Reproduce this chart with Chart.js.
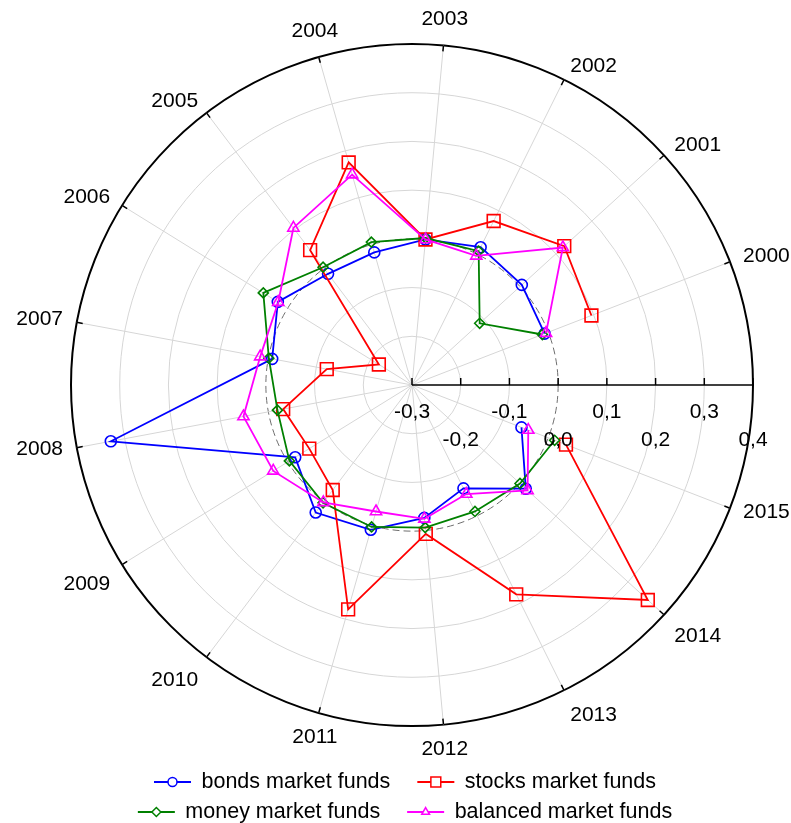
<!DOCTYPE html>
<html>
<head>
<meta charset="utf-8">
<script src="https://cdn.jsdelivr.net/npm/chart.js@4/dist/chart.umd.min.js"></script>
<style>
  html, body { margin: 0; padding: 0; background: #fff; }
  #wrap { width: 791px; height: 823px; position: relative; }
</style>
</head>
<body>
<div id="wrap"><canvas id="chart"></canvas></div>
<script>
// years, counter-clockwise from the radial axis
const years = ["2000", "2001", "2002", "2003", "2004", "2005", "2006", "2007",
  "2008", "2009", "2010", "2011", "2012", "2013", "2014", "2015"];

const bonds = [-0.008, 0.005, 0.016, 0.0, -0.017, -0.014, 0.024, -0.008,
  0.329, -0.018, 0.028, 0.009, -0.026, -0.063, 0.016, -0.059];
const stocks = [0.095, 0.123, 0.076, 0.0, 0.175, 0.047, -0.22, -0.122,
  -0.031, -0.052, -0.030, 0.179, 0.007, 0.180, 0.355, 0.039];
const money = [-0.013, -0.112, 0.007, 0.003, 0.005, 0.003, 0.059, -0.001,
  -0.019, -0.004, 0.003, 0.003, -0.006, -0.010, 0.0, 0.014];
const balanced = [-0.005, 0.119, -0.004, 0.0, 0.149, 0.104, 0.023, 0.017,
  0.052, 0.035, 0.002, -0.030, -0.024, -0.050, 0.021, -0.044];

const tickValues = [-0.3, -0.2, -0.1, 0.0, 0.1, 0.2, 0.3, 0.4];
const tickLabels = ["-0,3", "-0,2", "-0,1", "0,0", "0,1", "0,2", "0,3", "0,4"];

const FONT = "'Liberation Sans', Arial, sans-serif";
Chart.defaults.font.family = FONT;

// radar goes clockwise from the top; slot 0 (east) is the empty axis slot
const labels = [""].concat(years.slice().reverse());
function toRadar(arr) {
  return [null].concat(arr.slice().reverse());
}

function ds(label, data, color, style, radius, order) {
  return {
    label: label,
    data: toRadar(data),
    borderColor: color,
    borderWidth: 1.8,
    fill: false,
    spanGaps: false,
    pointStyle: style,
    pointRadius: radius,
    pointBorderWidth: 1.6,
    pointBorderColor: color,
    pointBackgroundColor: "rgba(0,0,0,0)",
    order: order
  };
}

const datasets = [
  ds("bonds market funds", bonds, "#0000ff", "circle", 5.5, 3),
  ds("stocks market funds", stocks, "#ff0000", "rect", 9, 2),
  ds("money market funds", money, "#008000", "rectRot", 5, 1),
  ds("balanced market funds", balanced, "#ff00ff", "triangle", 6.5, 0)
];

// labels, axis ticks and legend in the old Statistica style
const polarExtras = {
  id: "polarExtras",
  afterDatasetsDraw(chart) {
    const scale = chart.scales.r;
    const ctx = chart.ctx;
    const R = scale.drawingArea;
    ctx.save();

    // small inward ticks on the outer circle
    ctx.strokeStyle = "#000";
    ctx.lineWidth = 1.5;
    for (let i = 1; i < labels.length; i++) {
      const a = scale.getPointPosition(i, R);
      const b = scale.getPointPosition(i, R - 6);
      ctx.beginPath();
      ctx.moveTo(a.x, a.y);
      ctx.lineTo(b.x, b.y);
      ctx.stroke();
    }

    // ticks and labels on the radial axis
    ctx.font = "21px " + FONT;
    ctx.fillStyle = "#000";
    ctx.textAlign = "center";
    ctx.textBaseline = "middle";
    tickValues.forEach((v, i) => {
      const p = scale.getPointPosition(0, scale.getDistanceFromCenterForValue(v));
      ctx.beginPath();
      ctx.moveTo(p.x, p.y);
      ctx.lineTo(p.x, p.y - 7);
      ctx.stroke();
      ctx.fillText(tickLabels[i], p.x, p.y + (i % 2 === 0 ? 27 : 55));
    });

    // year labels outside the circle
    for (let i = 1; i < labels.length; i++) {
      const p = scale.getPointPosition(i, R + 14);
      const ux = Math.cos(p.angle), uy = Math.sin(p.angle); // uy > 0 is downwards
      const w = ctx.measureText(labels[i]).width;
      let x = p.x, y = p.y;
      if (Math.abs(ux) < 0.35) {
        y += uy < 0 ? -12.5 : 10.5;
      } else {
        x += ux > 0 ? w / 2 : -w / 2;
        y += uy > 0.4 ? 12 : -1;
      }
      ctx.fillText(labels[i], x, y);
    }

    // legend, two centred rows
    ctx.font = "21.5px " + FONT;
    const rows = [[0, 1], [2, 3]];
    const rowY = [782, 812];
    const lineLen = 37, gapText = 10.5, gapItem = 27;
    rows.forEach((row, r) => {
      const widths = row.map(k => lineLen + gapText + ctx.measureText(chart.data.datasets[k].label).width);
      const total = widths.reduce((s, x) => s + x, 0) + gapItem * (row.length - 1);
      let x = 405 - total / 2;
      const y = rowY[r];
      row.forEach((k, j) => {
        const d = chart.data.datasets[k];
        ctx.strokeStyle = d.borderColor;
        ctx.lineWidth = 1.8;
        ctx.beginPath();
        ctx.moveTo(x, y);
        ctx.lineTo(x + lineLen, y);
        ctx.stroke();
        ctx.fillStyle = "#fff";
        ctx.lineWidth = 1.5;
        Chart.helpers.drawPoint(ctx, {
          pointStyle: d.pointStyle,
          radius: d.pointStyle === "rect" ? 7 : 4.5,
          rotation: 0,
          borderWidth: 1.5
        }, x + lineLen / 2, y);
        ctx.fillStyle = "#000";
        ctx.textAlign = "left";
        ctx.fillText(d.label, x + lineLen + gapText, y);
        x += widths[j] + gapItem;
      });
    });
    ctx.restore();
  }
};

const isZero = v => Math.abs(v) < 1e-9;
const isMax = v => Math.abs(v - 0.4) < 1e-9;

new Chart(document.getElementById("chart"), {
  type: "radar",
  data: { labels: labels, datasets: datasets },
  options: {
    responsive: true,
    maintainAspectRatio: false,
    animation: false,
    events: [],
    layout: { padding: { left: 71, right: 38, top: 44, bottom: 97 } },
    plugins: {
      legend: { display: false },
      tooltip: { enabled: false }
    },
    scales: {
      r: {
        min: -0.3,
        max: 0.4,
        startAngle: 90,
        ticks: { stepSize: 0.1, display: false },
        pointLabels: { display: false },
        grid: {
          circular: true,
          color: c => isMax(c.tick.value) ? "#000" : (isZero(c.tick.value) ? "#6e6e6e" : "#d6d6d6"),
          lineWidth: c => isMax(c.tick.value) ? 2 : 1
        },
        border: {
          dash: c => (c.tick && isZero(c.tick.value)) ? [7, 4] : []
        },
        angleLines: {
          color: c => c.index === 0 ? "#000" : "#d6d6d6",
          lineWidth: c => c.index === 0 ? 1.5 : 1
        }
      }
    }
  },
  plugins: [polarExtras]
});
</script>
</body>
</html>
